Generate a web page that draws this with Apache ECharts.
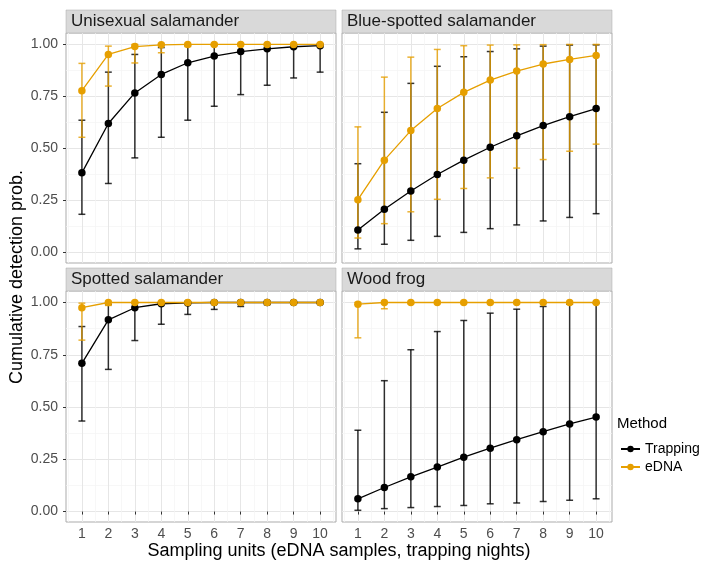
<!DOCTYPE html>
<html>
<head>
<meta charset="utf-8">
<script src="https://cdn.jsdelivr.net/npm/echarts@6/dist/echarts.min.js"></script>
<style>html,body{margin:0;padding:0;background:#fff}#chart{width:718px;height:562px}</style>
</head>
<body>
<div id="chart"></div>
<script>
// ---- data ----
const panelTitles = ['Unisexual salamander', 'Blue-spotted salamander', 'Spotted salamander', 'Wood frog'];
const methods = ['Trapping', 'eDNA'];
const units = [1, 2, 3, 4, 5, 6, 7, 8, 9, 10];
const xTicks = [1, 2, 3, 4, 5, 6, 7, 8, 9, 10];
const xMinor = [0.5, 1.5, 2.5, 3.5, 4.5, 5.5, 6.5, 7.5, 8.5, 9.5, 10.5];
const yTicks = [0, 0.25, 0.5, 0.75, 1];
const yMinor = [0.125, 0.375, 0.625, 0.875];

// Unisexual salamander
const uniTrapMean = [0.383, 0.620, 0.767, 0.856, 0.912, 0.944, 0.966, 0.979, 0.989, 0.994];
const uniTrapLow  = [0.184, 0.332, 0.455, 0.554, 0.636, 0.703, 0.759, 0.804, 0.839, 0.867];
const uniTrapHigh = [0.636, 0.867, 0.952, 0.985, 0.995, 0.998, 1, 1, 1, 1];
const uniEdnaMean = [0.778, 0.952, 0.990, 0.998, 1, 1, 1, 1, 1, 1];
const uniEdnaLow  = [0.554, 0.800, 0.911, 0.960, 0.990, 0.997, 1, 1, 1, 1];
const uniEdnaHigh = [0.909, 0.992, 1, 1, 1, 1, 1, 1, 1, 1];

// Blue-spotted salamander
const blueTrapMean = [0.109, 0.208, 0.296, 0.375, 0.444, 0.506, 0.561, 0.610, 0.653, 0.692];
const blueTrapLow  = [0.018, 0.040, 0.059, 0.078, 0.097, 0.115, 0.133, 0.152, 0.169, 0.187];
const blueTrapHigh = [0.427, 0.674, 0.813, 0.895, 0.941, 0.966, 0.979, 0.992, 0.997, 0.998];
const blueEdnaMean = [0.254, 0.444, 0.586, 0.692, 0.770, 0.829, 0.872, 0.906, 0.928, 0.947];
const blueEdnaLow  = [0.070, 0.139, 0.196, 0.256, 0.308, 0.359, 0.406, 0.447, 0.487, 0.521];
const blueEdnaHigh = [0.604, 0.843, 0.939, 0.976, 0.994, 0.997, 0.998, 0.999, 1, 1];

// Spotted salamander
const spotTrapMean = [0.709, 0.917, 0.975, 0.994, 0.998, 1, 1, 1, 1, 1];
const spotTrapLow  = [0.433, 0.680, 0.818, 0.896, 0.943, 0.967, 0.981, 0.990, 0.996, 0.998];
const spotTrapHigh = [0.885, 0.990, 0.999, 1, 1, 1, 1, 1, 1, 1];
const spotEdnaMean = [0.975, 1, 1, 1, 1, 1, 1, 1, 1, 1];
const spotEdnaLow  = [0.820, 0.986, 1, 1, 1, 1, 1, 1, 1, 1];
const spotEdnaHigh = [0.997, 1, 1, 1, 1, 1, 1, 1, 1, 1];

// Wood frog
const woodTrapMean = [0.061, 0.115, 0.166, 0.213, 0.260, 0.303, 0.344, 0.382, 0.419, 0.452];
const woodTrapLow  = [0.006, 0.014, 0.019, 0.024, 0.029, 0.037, 0.041, 0.048, 0.054, 0.061];
const woodTrapHigh = [0.389, 0.626, 0.774, 0.861, 0.914, 0.949, 0.968, 0.981, 0.992, 0.997];
const woodEdnaMean = [0.992, 1, 1, 1, 1, 1, 1, 1, 1, 1];
const woodEdnaLow  = [0.831, 0.970, 0.995, 1, 1, 1, 1, 1, 1, 1];
const woodEdnaHigh = [1, 1, 1, 1, 1, 1, 1, 1, 1, 1];

const panelData = [
  { trap: [uniTrapMean, uniTrapLow, uniTrapHigh], edna: [uniEdnaMean, uniEdnaLow, uniEdnaHigh] },
  { trap: [blueTrapMean, blueTrapLow, blueTrapHigh], edna: [blueEdnaMean, blueEdnaLow, blueEdnaHigh] },
  { trap: [spotTrapMean, spotTrapLow, spotTrapHigh], edna: [spotEdnaMean, spotEdnaLow, spotEdnaHigh] },
  { trap: [woodTrapMean, woodTrapLow, woodTrapHigh], edna: [woodEdnaMean, woodEdnaLow, woodEdnaHigh] }
];

// ---- styling / layout ----
const COLORS = { Trapping: '#000000', eDNA: '#E69F00' };
const FONT = 'Liberation Sans, Arial, sans-serif';
const grids = [
  { left: 66, top: 33, width: 270, height: 230 },
  { left: 342, top: 33, width: 270, height: 230 },
  { left: 66, top: 291, width: 270, height: 231 },
  { left: 342, top: 291, width: 270, height: 231 }
];
const STRIP_H = 23;
const BORDER = '#ABABAB';
const MAJOR = '#E6E6E6';
const MINORC = '#F3F3F3';
const CAP = 0.13;

const chart = echarts.init(document.getElementById('chart'), null, { renderer: 'canvas' });

const xAxes = [], yAxes = [], series = [], graphics = [];

grids.forEach((g, gi) => {
  const bottomRow = gi >= 2;
  const leftCol = gi % 2 === 0;
  xAxes.push({
    type: 'value', gridIndex: gi, min: 0.4, max: 10.6, position: 'bottom',
    axisLine: { show: false },
    axisTick: { show: bottomRow, customValues: xTicks, length: 3, lineStyle: { color: '#333333', width: 1 } },
    axisLabel: { show: bottomRow, customValues: xTicks, color: '#4D4D4D', fontSize: 14, fontFamily: FONT, margin: 5 },
    splitLine: { show: true, lineStyle: { color: MAJOR, width: 1 } }
  });
  xAxes.push({
    type: 'value', gridIndex: gi, min: 0.4, max: 10.6, position: 'top',
    axisLine: { show: false },
    axisTick: { show: false, customValues: xMinor },
    axisLabel: { show: false, customValues: xMinor },
    splitLine: { show: true, lineStyle: { color: MINORC, width: 0.7 } }
  });
  yAxes.push({
    type: 'value', gridIndex: gi, min: -0.05, max: 1.055, position: 'left',
    axisLine: { show: false },
    axisTick: { show: leftCol, customValues: yTicks, length: 3, lineStyle: { color: '#333333', width: 1 } },
    axisLabel: { show: leftCol, customValues: yTicks, color: '#4D4D4D', fontSize: 14, fontFamily: FONT, margin: 8,
      formatter: v => Number(v).toFixed(2) },
    splitLine: { show: true, lineStyle: { color: MAJOR, width: 1 } }
  });
  yAxes.push({
    type: 'value', gridIndex: gi, min: -0.05, max: 1.055, position: 'right',
    axisLine: { show: false },
    axisTick: { show: false, customValues: yMinor },
    axisLabel: { show: false, customValues: yMinor },
    splitLine: { show: true, lineStyle: { color: MINORC, width: 0.7 } }
  });

  // strip
  graphics.push({
    type: 'rect', shape: { x: g.left, y: g.top - STRIP_H, width: g.width, height: STRIP_H },
    style: { fill: '#D9D9D9', stroke: BORDER, lineWidth: 0.5 }, silent: true
  });
  graphics.push({
    type: 'text', x: g.left + 5, y: g.top - STRIP_H / 2,
    style: { text: panelTitles[gi], fill: '#1A1A1A', font: '17px ' + FONT, textVerticalAlign: 'middle', textAlign: 'left' },
    silent: true
  });

  const pd = panelData[gi];
  const groups = [['Trapping', pd.trap], ['eDNA', pd.edna]];
  // error bars first (named separately so the legend uses the line series icons)
  groups.forEach(([name, arr]) => {
    series.push({
      name: name + ' interval', type: 'custom', xAxisIndex: gi * 2, yAxisIndex: gi * 2,
      itemStyle: { color: COLORS[name] }, z: 2,
      encode: { x: 0, y: [1, 2] },
      data: units.map((u, i) => [u, arr[1][i], arr[2][i]]),
      renderItem: function (params, api) {
        const x = api.value(0), lo = api.value(1), hi = api.value(2);
        const pLo = api.coord([x, lo]), pHi = api.coord([x, hi]);
        const cl1 = api.coord([x - CAP, lo]), cl2 = api.coord([x + CAP, lo]);
        const ch1 = api.coord([x - CAP, hi]), ch2 = api.coord([x + CAP, hi]);
        const st = { stroke: COLORS[name], lineWidth: 1.5, opacity: 0.8 };
        return {
          type: 'group', children: [
            { type: 'line', shape: { x1: pLo[0], y1: pLo[1], x2: pHi[0], y2: pHi[1] }, style: st },
            { type: 'line', shape: { x1: cl1[0], y1: cl1[1], x2: cl2[0], y2: cl2[1] }, style: st },
            { type: 'line', shape: { x1: ch1[0], y1: ch1[1], x2: ch2[0], y2: ch2[1] }, style: st }
          ]
        };
      }
    });
  });
  groups.forEach(([name, arr]) => {
    series.push({
      name: name, type: 'line', xAxisIndex: gi * 2, yAxisIndex: gi * 2, z: 3,
      data: units.map((u, i) => [u, arr[0][i]]),
      symbol: 'circle', symbolSize: 7.5, showSymbol: true,
      itemStyle: { color: COLORS[name] },
      lineStyle: { color: COLORS[name], width: 1.3 },
      emphasis: { disabled: true }, clip: false
    });
  });
});

// axis titles & legend title
graphics.push({
  type: 'text', x: 339, y: 551,
  style: { text: 'Sampling units (eDNA samples, trapping nights)', fill: '#000000', font: '18px ' + FONT, textAlign: 'center', textVerticalAlign: 'middle' },
  silent: true
});
graphics.push({
  type: 'text', x: 17, y: 277, rotation: Math.PI / 2,
  style: { text: 'Cumulative detection prob.', fill: '#000000', font: '18px ' + FONT, textAlign: 'center', textVerticalAlign: 'middle' },
  silent: true
});
graphics.push({
  type: 'text', x: 617, y: 424,
  style: { text: 'Method', fill: '#000000', font: '15px ' + FONT, textAlign: 'left', textVerticalAlign: 'middle' },
  silent: true
});

chart.setOption({
  animation: false,
  backgroundColor: '#ffffff',
  grid: grids.map(g => Object.assign({ show: true, borderColor: BORDER, borderWidth: 1, backgroundColor: '#ffffff' }, g)),
  xAxis: xAxes,
  yAxis: yAxes,
  legend: {
    data: methods, orient: 'vertical', left: 615, top: 437,
    itemWidth: 19, itemHeight: 8, itemGap: 4,
    textStyle: { color: '#000000', fontSize: 14, fontFamily: FONT },
    selectedMode: false
  },
  graphic: graphics,
  series: series
});
</script>
</body>
</html>
